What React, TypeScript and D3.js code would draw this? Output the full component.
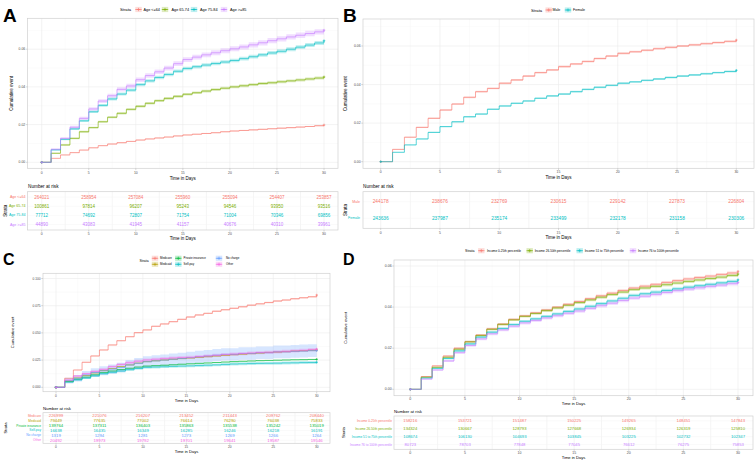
import React from 'react';
import * as d3 from 'd3';

const FONT = '"Liberation Sans", Arial, Helvetica, sans-serif';
const days = d3.range(0, 31);
const xTicks = [0, 5, 10, 15, 20, 25, 30];
const xMinor = [2.5, 7.5, 12.5, 17.5, 22.5, 27.5];

// ---- A: age groups ----
const ageStrata = ['Age <=64', 'Age 65-74', 'Age 75-84', 'Age >=85'];
const ageLE64 = [0, 0.0021, 0.0039, 0.0051, 0.0065, 0.0077, 0.0088, 0.0097, 0.0104, 0.0111, 0.0118, 0.0124, 0.0129, 0.0134, 0.014, 0.0145, 0.0149, 0.0153, 0.0157, 0.0162, 0.0166, 0.0169, 0.0172, 0.0175, 0.0178, 0.0181, 0.0184, 0.0187, 0.019, 0.0194, 0.0198];
const age6574 = [0, 0.0048, 0.0092, 0.0127, 0.0162, 0.0184, 0.0215, 0.0239, 0.026, 0.0281, 0.0297, 0.0313, 0.0327, 0.0339, 0.035, 0.0361, 0.0369, 0.0378, 0.0386, 0.0393, 0.04, 0.0406, 0.0412, 0.0418, 0.0422, 0.0427, 0.0432, 0.0437, 0.0442, 0.0447, 0.0453];
const age7584 = [0, 0.0066, 0.0122, 0.0177, 0.022, 0.0268, 0.0302, 0.0336, 0.0362, 0.0383, 0.0412, 0.0432, 0.045, 0.0466, 0.0483, 0.0498, 0.0507, 0.0516, 0.0524, 0.0532, 0.054, 0.055, 0.056, 0.057, 0.058, 0.0589, 0.06, 0.0611, 0.0622, 0.0633, 0.0645];
const age85 = [0, 0.0069, 0.0127, 0.0186, 0.0233, 0.0283, 0.0325, 0.0353, 0.0387, 0.0405, 0.0438, 0.046, 0.048, 0.05, 0.0523, 0.0545, 0.0558, 0.057, 0.0581, 0.0592, 0.0602, 0.0612, 0.0623, 0.0634, 0.0645, 0.0655, 0.0665, 0.0674, 0.0683, 0.0692, 0.0701];
const ageRisk = [
  [264021, 258954, 257084, 255960, 255094, 254407, 253857],
  [100861, 97814, 96207, 95243, 94546, 93950, 93516],
  [77712, 74692, 72807, 71754, 71004, 70346, 69856],
  [44890, 43083, 41945, 41157, 40676, 40310, 39961],
];

// ---- B: sex ----
const sexStrata = ['Male', 'Female'];
const male = [0, 0.0064, 0.0127, 0.0178, 0.0225, 0.0268, 0.0299, 0.0334, 0.0363, 0.038, 0.0407, 0.0424, 0.0444, 0.0462, 0.0476, 0.0493, 0.0507, 0.052, 0.0535, 0.0548, 0.0562, 0.057, 0.0578, 0.0586, 0.0593, 0.06, 0.0606, 0.0612, 0.0618, 0.0624, 0.0631];
const female = [0, 0.0049, 0.0087, 0.0118, 0.0152, 0.0182, 0.0207, 0.0233, 0.0247, 0.0272, 0.0289, 0.0303, 0.0315, 0.0329, 0.0341, 0.0351, 0.0363, 0.0375, 0.0386, 0.0396, 0.0407, 0.0414, 0.0422, 0.0429, 0.0437, 0.0444, 0.045, 0.0456, 0.0462, 0.0468, 0.0474];
const sexRisk = [
  [244178, 238676, 232769, 230615, 229142, 227873, 226804],
  [243636, 237987, 235174, 233499, 232178, 231158, 230306],
];

// ---- C: payer ----
const payerStrata = ['Medicare', 'Medicaid', 'Private insurance', 'Self-pay', 'No charge', 'Other'];
const medicare = [0, 0.0083, 0.0159, 0.023, 0.0288, 0.0343, 0.0389, 0.0428, 0.0465, 0.0502, 0.0527, 0.0561, 0.0582, 0.0603, 0.0625, 0.0646, 0.0665, 0.068, 0.0699, 0.0713, 0.0726, 0.074, 0.0755, 0.0767, 0.0779, 0.0793, 0.0802, 0.0814, 0.0823, 0.0832, 0.0848];
const medicaid = [0, 0.0058, 0.0086, 0.0108, 0.0132, 0.0153, 0.0172, 0.019, 0.0206, 0.0222, 0.0236, 0.0244, 0.0251, 0.0258, 0.0264, 0.027, 0.0276, 0.0282, 0.0288, 0.0294, 0.03, 0.0305, 0.031, 0.0315, 0.032, 0.0324, 0.0328, 0.0332, 0.0336, 0.034, 0.0343];
const privateIns = [0, 0.0052, 0.0075, 0.0094, 0.0115, 0.0135, 0.015, 0.0163, 0.0175, 0.0186, 0.0195, 0.0199, 0.0203, 0.0207, 0.0212, 0.0216, 0.022, 0.0224, 0.0228, 0.0232, 0.0236, 0.0239, 0.0242, 0.0245, 0.0247, 0.0249, 0.0251, 0.0253, 0.0254, 0.0256, 0.0257];
const selfPay = [0, 0.0048, 0.0068, 0.0085, 0.0105, 0.0125, 0.0138, 0.015, 0.0162, 0.0173, 0.0183, 0.0186, 0.0189, 0.0192, 0.0195, 0.0197, 0.02, 0.0203, 0.0206, 0.021, 0.0214, 0.0216, 0.0218, 0.022, 0.0221, 0.0222, 0.0224, 0.0225, 0.0227, 0.0228, 0.023];
const noCharge = [0, 0.0061, 0.0083, 0.0114, 0.0136, 0.0152, 0.0167, 0.0182, 0.0205, 0.022, 0.0235, 0.0243, 0.025, 0.0258, 0.0265, 0.0273, 0.0281, 0.0288, 0.0296, 0.0303, 0.0303, 0.0311, 0.0311, 0.0318, 0.0318, 0.0326, 0.0326, 0.033, 0.0333, 0.0337, 0.0337];
const otherPay = [0, 0.0067, 0.0104, 0.0125, 0.0146, 0.0165, 0.019, 0.021, 0.0226, 0.024, 0.0251, 0.0258, 0.0264, 0.027, 0.0273, 0.0276, 0.0282, 0.0288, 0.0294, 0.03, 0.0305, 0.031, 0.0315, 0.0319, 0.0322, 0.0325, 0.033, 0.0335, 0.034, 0.0346, 0.0352];
const payerRisk = [
  [226999, 221076, 216207, 213452, 211443, 209762, 208440],
  [79449, 77635, 77002, 76614, 76290, 76038, 75833],
  [139764, 137311, 136403, 135863, 135538, 135242, 135019],
  [16638, 16435, 16349, 16285, 16246, 16218, 16191],
  [1319, 1294, 1281, 1273, 1269, 1266, 1264],
  [20492, 19973, 19792, 19701, 19641, 19587, 19546],
];

// ---- D: income ----
const incomeStrata = ['Income 0-25th percentile', 'Income 26-50th percentile', 'Income 51 to 75th percentile', 'Income 76 to 100th percentile'];
const inc1 = [0, 0.0062, 0.0114, 0.0162, 0.02, 0.0232, 0.0264, 0.0294, 0.0317, 0.034, 0.0357, 0.0372, 0.0386, 0.04, 0.0414, 0.0427, 0.0441, 0.0455, 0.0468, 0.0481, 0.0493, 0.0502, 0.0511, 0.052, 0.0529, 0.0537, 0.0544, 0.0551, 0.0559, 0.0566, 0.0574];
const inc2 = [0, 0.0059, 0.0107, 0.0156, 0.0195, 0.0231, 0.0262, 0.0292, 0.0316, 0.0338, 0.0355, 0.0369, 0.0383, 0.0396, 0.0409, 0.0422, 0.0435, 0.0448, 0.0461, 0.0473, 0.0485, 0.0493, 0.0501, 0.0509, 0.0517, 0.0525, 0.0532, 0.0539, 0.0546, 0.0554, 0.0561];
const inc3 = [0, 0.0055, 0.0102, 0.015, 0.0187, 0.0221, 0.0254, 0.0278, 0.0296, 0.0315, 0.0331, 0.0343, 0.0355, 0.0367, 0.0379, 0.0391, 0.0404, 0.0417, 0.043, 0.0443, 0.0457, 0.0465, 0.0473, 0.0481, 0.0489, 0.0497, 0.0504, 0.0511, 0.0518, 0.0525, 0.0533];
const inc4 = [0, 0.005, 0.0094, 0.0138, 0.0178, 0.0213, 0.0245, 0.027, 0.0289, 0.0307, 0.0323, 0.0335, 0.0347, 0.0358, 0.037, 0.0381, 0.0394, 0.0407, 0.0419, 0.0432, 0.0444, 0.0453, 0.0462, 0.0471, 0.048, 0.0488, 0.0494, 0.0501, 0.0507, 0.0514, 0.052];
const incomeRisk = [
  [158216, 153721, 151487, 150225, 149265, 148451, 147843],
  [134324, 130667, 128793, 127668, 126934, 126319, 125810],
  [108674, 106130, 104693, 103845, 103225, 102732, 102347],
  [80723, 78703, 77848, 77045, 76612, 76275, 75853],
];

const hue2 = ['#F8766D', '#00BFC4'];
const hue4 = ['#F8766D', '#7CAE00', '#00BFC4', '#C77CFF'];
const hue6 = ['#F8766D', '#B79F00', '#00BA38', '#00BFC4', '#619CFF', '#F564E3'];

const plus = (cx: number, cy: number, s: number) =>
  `M${cx - s},${cy}h${2 * s}M${cx},${cy - s}v${2 * s}`;

const panels = [
  {
    label: 'A', labelXY: [3, 21.5], labelSize: 19,
    strata: ageStrata, colors: hue4, series: [ageLE64, age6574, age7584, age85], risk: ageRisk,
    plot: { l: 27.6, r: 338, t: 18.3, b: 168.3 },
    xr: [41.7, 324], yd: [0, 0.06], yr: [162.3, 49.2], yTicks: [0, 0.02, 0.04, 0.06], yFmt: '.2f',
    tick: 3.4, title: 4.5, yTitleX: 11.7, xTickY: 173, xTitleY: 178.5,
    legend: { y: 9.5, y2: 9.5, titleX: 120, size: 3.8, tsize: 4.2, keys: [138.5, 165, 194, 224], labs: [143.5, 171.5, 200, 230], rows: [0, 0, 0, 0] },
    table: { titleX: 28, titleY: 186.7, t: 191.7, b: 230, tickY: 234, xtitleY: 238.5, labelX: 25.5, strataX: 5, num: 4.5, lab: 3.6 },
  },
  {
    label: 'B', labelXY: [343, 21.5], labelSize: 19,
    strata: sexStrata, colors: hue2, series: [male, female], risk: sexRisk,
    plot: { l: 363, r: 754, t: 19, b: 168.3 },
    xr: [380.7, 736.3], yd: [0, 0.06], yr: [161.7, 46], yTicks: [0, 0.02, 0.04, 0.06], yFmt: '.2f',
    tick: 3.4, title: 4.5, yTitleX: 345.5, xTickY: 172, xTitleY: 177.3,
    legend: { y: 10, y2: 10, titleX: 531, size: 3.6, tsize: 4.2, keys: [548.7, 568], labs: [552.5, 573], rows: [0, 0] },
    table: { titleX: 363, titleY: 186.7, t: 191.7, b: 228.3, tickY: 232.7, xtitleY: 237.3, labelX: 360, strataX: 345.5, num: 4.8, lab: 3.6 },
  },
  {
    label: 'C', labelXY: [3, 265], labelSize: 16,
    strata: payerStrata, colors: hue6, series: [medicare, medicaid, privateIns, selfPay, noCharge, otherPay], risk: payerRisk,
    plot: { l: 43, r: 330, t: 273.3, b: 391.7 },
    xr: [56, 316.7], yd: [0, 0.1], yr: [387.3, 278.5], yTicks: [0, 0.025, 0.05, 0.075, 0.1], yFmt: '.3f',
    tick: 3.2, title: 4.1, yTitleX: 12, xTickY: 395.7, xTitleY: 400,
    legend: { y: 258.3, y2: 264.3, titleX: 139.5, size: 2.9, tsize: 3.4, keys: [155, 155, 178.3, 178.3, 219, 219], labs: [160, 160, 183.5, 183.5, 226, 226], rows: [0, 1, 0, 1, 0, 1] },
    table: { titleX: 43, titleY: 408, t: 412.7, b: 443.3, tickY: 447.3, xtitleY: 451.3, labelX: 41, strataX: 5, num: 4.3, lab: 3.2 },
  },
  {
    label: 'D', labelXY: [343, 265], labelSize: 16,
    strata: incomeStrata, colors: hue4, series: [inc1, inc2, inc3, inc4], risk: incomeRisk,
    plot: { l: 394, r: 753, t: 260, b: 395.7 },
    xr: [410.3, 738], yd: [0, 0.06], yr: [389.3, 266], yTicks: [0, 0.02, 0.04, 0.06], yFmt: '.2f',
    tick: 3.5, title: 4.1, yTitleX: 345.5, xTickY: 399.3, xTitleY: 403.5,
    legend: { y: 250.7, y2: 250.7, titleX: 465, size: 3.1, tsize: 3.6, keys: [481.3, 529.7, 579.7, 633], labs: [487, 534.7, 584.7, 638], rows: [0, 0, 0, 0] },
    table: { titleX: 394, titleY: 411.7, t: 416, b: 449.3, tickY: 453.3, xtitleY: 457.7, labelX: 392, strataX: 343, num: 4.2, lab: 3.2 },
  },
];

const GRID = '#ebebeb';
const GRID_MINOR = '#f4f4f4';
const BORDER = '#d0d0d0';
const AXIS_TXT = '#4d4d4d';

function Panel({ c }: { c: any }) {
  const x = d3.scaleLinear().domain([0, 30]).range(c.xr);
  const y = d3.scaleLinear().domain(c.yd).range(c.yr);
  const p = c.plot;
  const yLo = y.invert(p.b);
  const yHi = y.invert(p.t);
  const yStep = c.yTicks[1] - c.yTicks[0];
  const yMinor = d3.range(-1, c.yTicks.length).map((i) => c.yTicks[0] + (i + 0.5) * yStep).filter((v) => v > yLo && v < yHi);
  const fmt = d3.format(c.yFmt);

  const line = d3.line<number>().x((_, i) => x(days[i])).y((v) => y(v)).curve(d3.curveStepAfter);

  // confidence band, drawn narrower than a full 95% interval to match the figure
  const bands = c.series.map((s: number[], k: number) => {
    const n0 = c.risk[k][0];
    return s.map((v, i) => {
      const se = Math.sqrt((v * (1 - v)) / n0);
      return { t: days[i], lo: Math.max(0, v - 1.2 * se), hi: v + 1.2 * se };
    });
  });
  const area = d3.area<any>().x((d) => x(d.t)).y0((d) => y(d.lo)).y1((d) => y(d.hi)).curve(d3.curveStepAfter);

  const tb = c.table;
  const rowY = d3.scalePoint<string>().domain(c.strata).range([tb.t, tb.b]).padding(0.6);
  const lg = c.legend;
  const midPlot = (p.t + p.b) / 2;
  const midTable = (tb.t + tb.b) / 2;

  return (
    <g fontFamily={FONT}>
      <text x={c.labelXY[0]} y={c.labelXY[1]} fontSize={c.labelSize} fontWeight="bold" fill="#000">{c.label}</text>

      {/* legend */}
      <text x={lg.titleX} y={(lg.y + lg.y2) / 2} fontSize={lg.tsize} dominantBaseline="central" fill="#000">Strata</text>
      {c.strata.map((s: string, k: number) => {
        const ly = lg.rows[k] ? lg.y2 : lg.y;
        const kx = lg.keys[k];
        return (
          <g key={s}>
            <rect x={kx - 3.2} y={ly - 2.6} width={6.4} height={5.2} fill={c.colors[k]} fillOpacity={0.25} />
            <line x1={kx - 3.2} x2={kx + 3.2} y1={ly} y2={ly} stroke={c.colors[k]} strokeWidth={0.7} />
            <path d={plus(kx, ly, 1.6)} stroke={c.colors[k]} strokeWidth={0.6} />
            <text x={lg.labs[k]} y={ly} fontSize={lg.size} dominantBaseline="central" fill="#000">{s}</text>
          </g>
        );
      })}

      {/* plot panel */}
      <rect x={p.l} y={p.t} width={p.r - p.l} height={p.b - p.t} fill="#fff" />
      {xMinor.map((t) => <line key={'xm' + t} x1={x(t)} x2={x(t)} y1={p.t} y2={p.b} stroke={GRID_MINOR} strokeWidth={0.4} />)}
      {yMinor.map((v) => <line key={'ym' + v} x1={p.l} x2={p.r} y1={y(v)} y2={y(v)} stroke={GRID_MINOR} strokeWidth={0.4} />)}
      {xTicks.map((t) => <line key={'xg' + t} x1={x(t)} x2={x(t)} y1={p.t} y2={p.b} stroke={GRID} strokeWidth={0.6} />)}
      {c.yTicks.map((v: number) => <line key={'yg' + v} x1={p.l} x2={p.r} y1={y(v)} y2={y(v)} stroke={GRID} strokeWidth={0.6} />)}

      {bands.map((b: any[], k: number) => <path key={'band' + k} d={area(b) || ''} fill={c.colors[k]} fillOpacity={0.25} />)}
      {c.series.map((s: number[], k: number) => (
        <g key={'ser' + k}>
          <path d={line(s) || ''} fill="none" stroke={c.colors[k]} strokeWidth={0.75} strokeOpacity={0.85} />
          <path d={plus(x(0), y(s[0]), 1.3)} stroke={c.colors[k]} strokeWidth={0.6} />
          <path d={plus(x(30), y(s[30]), 1.3)} stroke={c.colors[k]} strokeWidth={0.6} />
        </g>
      ))}
      <rect x={p.l} y={p.t} width={p.r - p.l} height={p.b - p.t} fill="none" stroke={BORDER} strokeWidth={0.7} />

      {/* axes */}
      {c.yTicks.map((v: number) => (
        <g key={'yt' + v}>
          <line x1={p.l - 1.8} x2={p.l} y1={y(v)} y2={y(v)} stroke="#b3b3b3" strokeWidth={0.5} />
          <text x={p.l - 2.4} y={y(v)} fontSize={c.tick} textAnchor="end" dominantBaseline="central" fill={AXIS_TXT}>{fmt(v)}</text>
        </g>
      ))}
      {xTicks.map((t) => (
        <g key={'xt' + t}>
          <line x1={x(t)} x2={x(t)} y1={p.b} y2={p.b + 1.8} stroke="#b3b3b3" strokeWidth={0.5} />
          <text x={x(t)} y={c.xTickY} fontSize={c.tick} textAnchor="middle" dominantBaseline="central" fill={AXIS_TXT}>{t}</text>
        </g>
      ))}
      <text x={(p.l + p.r) / 2} y={c.xTitleY} fontSize={c.title} textAnchor="middle" dominantBaseline="central" fill="#000">Time in Days</text>
      <text transform={`translate(${c.yTitleX},${midPlot}) rotate(-90)`} fontSize={c.title} textAnchor="middle" dominantBaseline="central" fill="#000">Cumulative event</text>

      {/* risk table */}
      <text x={tb.titleX} y={tb.titleY} fontSize={c.title + 0.2} dominantBaseline="central" fill="#000">Number at risk</text>
      <rect x={p.l} y={tb.t} width={p.r - p.l} height={tb.b - tb.t} fill="#fff" />
      {xMinor.map((t) => <line key={'txm' + t} x1={x(t)} x2={x(t)} y1={tb.t} y2={tb.b} stroke={GRID} strokeWidth={0.5} />)}
      {xTicks.map((t) => <line key={'txg' + t} x1={x(t)} x2={x(t)} y1={tb.t} y2={tb.b} stroke={GRID} strokeWidth={0.6} />)}
      {c.strata.map((s: string) => <line key={'tyg' + s} x1={p.l} x2={p.r} y1={rowY(s)} y2={rowY(s)} stroke={GRID_MINOR} strokeWidth={0.5} />)}
      {c.strata.map((s: string, k: number) => (
        <g key={'row' + s}>
          <text x={tb.labelX} y={rowY(s)} fontSize={tb.lab} textAnchor="end" dominantBaseline="central" fill={c.colors[k]}>{s}</text>
          {c.risk[k].map((n: number, j: number) => (
            <text key={j} x={x(xTicks[j])} y={rowY(s)} fontSize={tb.num} textAnchor="middle" dominantBaseline="central" fill={c.colors[k]}>{n}</text>
          ))}
        </g>
      ))}
      <rect x={p.l} y={tb.t} width={p.r - p.l} height={tb.b - tb.t} fill="none" stroke={BORDER} strokeWidth={0.7} />
      {xTicks.map((t) => (
        <g key={'txt' + t}>
          <line x1={x(t)} x2={x(t)} y1={tb.b} y2={tb.b + 1.6} stroke="#b3b3b3" strokeWidth={0.5} />
          <text x={x(t)} y={tb.tickY} fontSize={c.tick} textAnchor="middle" dominantBaseline="central" fill={AXIS_TXT}>{t}</text>
        </g>
      ))}
      <text x={(p.l + p.r) / 2} y={tb.xtitleY} fontSize={c.title} textAnchor="middle" dominantBaseline="central" fill="#000">Time in Days</text>
      <text transform={`translate(${tb.strataX},${midTable}) rotate(-90)`} fontSize={c.title} textAnchor="middle" dominantBaseline="central" fill="#000">Strata</text>
    </g>
  );
}

export default function App() {
  return (
    <div style={{ position: 'absolute', left: 0, top: 0 }}>
      <svg width={756} height={463} style={{ display: 'block', background: '#fff' }}>
        {panels.map((c) => <Panel key={c.label} c={c} />)}
      </svg>
    </div>
  );
}
